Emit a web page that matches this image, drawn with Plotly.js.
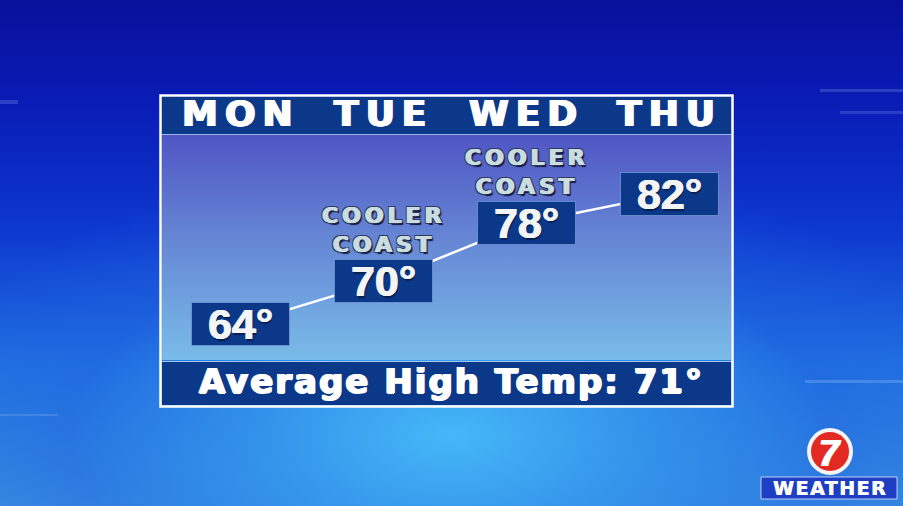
<!DOCTYPE html>
<html>
<head>
<meta charset="utf-8">
<script src="https://cdn.plot.ly/plotly-3.0.1.min.js"></script>
<style>
  html, body { margin:0; padding:0; width:903px; height:506px; overflow:hidden; }
  #chart {
    width:903px; height:506px;
    background:
      radial-gradient(ellipse 60% 55% at 50% 86%, rgba(70,184,248,1) 0%, rgba(52,150,236,0.85) 35%, rgba(30,100,225,0.4) 70%, rgba(16,50,210,0) 100%),
      linear-gradient(180deg, #08109a 0%, #0a1cb6 20%, #0d38cf 45%, #2070e0 72%, #3a8ee0 100%);
  }
  #chart .xtick text { letter-spacing: 7px; }
  #chart .annotation[data-index="4"] text,
  #chart .annotation[data-index="5"] text { letter-spacing: 4px; }
  #chart .annotation[data-index="6"] text { letter-spacing: 2px; }
  #chart .annotation[data-index="8"] text { letter-spacing: 1.5px; }
</style>
</head>
<body>
<div id="chart"></div>
<script>
// ---- data ----
const days = ['MON', 'TUE', 'WED', 'THU'];
const highs = [64, 70, 78, 82];
const notes = ['', 'COOLER<br>COAST', 'COOLER<br>COAST', ''];
const avgHigh = 71;
const footerLabel = 'Average High Temp:';

// ---- geometry helpers (layout only) ----
const L = 162, W = 569, T = 135, H = 225;
const X = px => (px - L) / W;
const Y = py => (T + H - py) / H;

const navy = '#0c388a';
const thickWhite = '1px 0 0 #ffffff, -1px 0 0 #ffffff, 0 0.5px 0 #ffffff';

const gradSvg = "<svg xmlns='http://www.w3.org/2000/svg' width='10' height='100' preserveAspectRatio='none'>" +
  "<defs><linearGradient id='g' x1='0' y1='0' x2='0' y2='1'>" +
  "<stop offset='0' stop-color='#4f56c4'/><stop offset='0.45' stop-color='#6585d4'/><stop offset='1' stop-color='#79bce8'/>" +
  "</linearGradient></defs><rect width='10' height='100' fill='url(#g)'/></svg>";
const gradSrc = 'data:image/svg+xml;charset=utf-8,' + encodeURIComponent(gradSvg);

const trace = {
  type: 'scatter',
  mode: 'lines',
  x: days,
  y: highs,
  line: { color: '#ffffff', width: 2.5 },
  hoverinfo: 'skip',
  showlegend: false
};

const annotations = [];
// value boxes (indices 0-3)
days.forEach((d, i) => {
  annotations.push({
    x: d, y: highs[i], xref: 'x', yref: 'y',
    text: highs[i] + '°',
    showarrow: false, xanchor: 'center', yanchor: 'middle',
    width: 97, height: 42,
    bgcolor: navy, bordercolor: 'rgba(120,160,220,0.7)', borderwidth: 1, borderpad: 0,
    font: { family: 'Liberation Sans', size: 43, weight: 700, color: '#f2f4f6',
            shadow: '0.6px 0 0 #f2f4f6, -0.6px 0 0 #f2f4f6, 1px 1.5px 1px rgba(0,0,0,0.45)' }
  });
});
// notes (indices 4-5)
const noteColor = '#c9dde0';
const noteDark = '#2f3a60';
days.forEach((d, i) => {
  if (!notes[i]) return;
  annotations.push({
    x: d, y: highs[i], xref: 'x', yref: 'y',
    text: notes[i], showarrow: false,
    xanchor: 'center', yanchor: 'middle', yshift: 51,
    font: { family: 'DejaVu Sans', size: 22, weight: 700, color: noteColor,
            shadow: `0.8px 0 0 ${noteColor}, -0.8px 0 0 ${noteColor}, -1.6px -1px 0 ${noteDark}, 1.6px -1px 0 ${noteDark}, -1.6px 1px 0 ${noteDark}, 2.2px 2px 1px #151a40` }
  });
});
// footer (index 6)
annotations.push({
  xref: 'paper', yref: 'paper', x: X(451), y: Y(381),
  text: footerLabel + ' ' + avgHigh + '°', showarrow: false,
  xanchor: 'center', yanchor: 'middle',
  font: { family: 'DejaVu Sans', size: 34, weight: 700, color: '#ffffff', shadow: thickWhite }
});
// logo "7" (index 7)
annotations.push({
  xref: 'paper', yref: 'paper', x: X(830), y: Y(453),
  text: '7', showarrow: false, xanchor: 'center', yanchor: 'middle',
  font: { family: 'Liberation Sans', size: 36, weight: 700, style: 'italic', color: '#ffffff',
          shadow: '1px 0 0 #fff, -1px 0 0 #fff' }
});
// logo WEATHER (index 8)
annotations.push({
  xref: 'paper', yref: 'paper', x: X(830), y: Y(488),
  text: 'WEATHER', showarrow: false, xanchor: 'center', yanchor: 'middle',
  font: { family: 'DejaVu Sans', size: 19, weight: 700, color: '#ffffff', shadow: '0.7px 0 0 #fff' }
});

const shapes = [
  // header band
  { type: 'rect', xref: 'paper', yref: 'paper', x0: X(162), x1: X(731), y0: Y(134), y1: Y(97),
    fillcolor: navy, line: { width: 0 }, layer: 'below' },
  // footer band
  { type: 'rect', xref: 'paper', yref: 'paper', x0: X(162), x1: X(731), y0: Y(405), y1: Y(362),
    fillcolor: navy, line: { width: 0 }, layer: 'below' },
  // separator lines
  { type: 'line', xref: 'paper', yref: 'paper', x0: X(162), x1: X(731), y0: Y(134.5), y1: Y(134.5),
    line: { color: 'rgba(175,200,240,0.9)', width: 1 } },
  { type: 'line', xref: 'paper', yref: 'paper', x0: X(162), x1: X(731), y0: Y(361.5), y1: Y(361.5),
    line: { color: 'rgba(175,210,240,0.9)', width: 1 } },
  // white frame
  { type: 'rect', xref: 'paper', yref: 'paper', x0: X(160.5), x1: X(732.5), y0: Y(406.5), y1: Y(95.5),
    line: { color: '#ffffff', width: 2.5 }, fillcolor: 'rgba(0,0,0,0)' },
  // faint background decorations
  { type: 'rect', xref: 'paper', yref: 'paper', x0: X(820), x1: X(903), y0: Y(92), y1: Y(89),
    fillcolor: 'rgba(160,190,255,0.22)', line: { width: 0 }, layer: 'below' },
  { type: 'rect', xref: 'paper', yref: 'paper', x0: X(840), x1: X(903), y0: Y(114), y1: Y(111),
    fillcolor: 'rgba(160,190,255,0.2)', line: { width: 0 }, layer: 'below' },
  { type: 'rect', xref: 'paper', yref: 'paper', x0: X(0), x1: X(18), y0: Y(104), y1: Y(100),
    fillcolor: 'rgba(160,190,255,0.22)', line: { width: 0 }, layer: 'below' },
  { type: 'rect', xref: 'paper', yref: 'paper', x0: X(805), x1: X(903), y0: Y(383), y1: Y(380),
    fillcolor: 'rgba(170,210,255,0.25)', line: { width: 0 }, layer: 'below' },
  { type: 'line', xref: 'paper', yref: 'paper', x0: X(0), x1: X(58), y0: Y(415), y1: Y(415),
    line: { color: 'rgba(190,220,255,0.35)', width: 1 }, layer: 'below' },
  // logo
  { type: 'rect', xref: 'paper', yref: 'paper', x0: X(761), x1: X(897), y0: Y(499), y1: Y(477),
    fillcolor: '#1e3fc4', line: { color: 'rgba(230,235,255,0.8)', width: 1 } },
  { type: 'circle', xref: 'paper', yref: 'paper', x0: X(807), x1: X(853), y0: Y(475), y1: Y(428),
    fillcolor: '#f4f4f4', line: { width: 0 } },
  { type: 'circle', xref: 'paper', yref: 'paper', x0: X(811), x1: X(849), y0: Y(471), y1: Y(432),
    fillcolor: '#e32a22', line: { width: 0 } }
];

const layout = {
  width: 903, height: 506, autosize: false,
  margin: { l: L, r: 903 - L - W, t: T, b: 506 - T - H, pad: 0 },
  paper_bgcolor: 'rgba(0,0,0,0)',
  plot_bgcolor: 'rgba(0,0,0,0)',
  showlegend: false,
  xaxis: {
    type: 'category', categoryorder: 'array', categoryarray: days,
    range: [-0.552, 3.43], side: 'top',
    showgrid: false, zeroline: false, showline: false, ticks: '',
    ticklabelstandoff: 1,
    tickfont: { family: 'DejaVu Sans', size: 36, weight: 700, color: '#ffffff', shadow: thickWhite },
    fixedrange: true
  },
  yaxis: {
    range: [59.0, 90.2], visible: false, fixedrange: true
  },
  images: [{
    source: gradSrc, xref: 'paper', yref: 'paper', x: 0, y: 1, sizex: 1, sizey: 1,
    xanchor: 'left', yanchor: 'top', sizing: 'stretch', layer: 'below'
  }],
  shapes: shapes,
  annotations: annotations
};

Plotly.newPlot('chart', [trace], layout, { staticPlot: true, displayModeBar: false });
</script>
</body>
</html>
